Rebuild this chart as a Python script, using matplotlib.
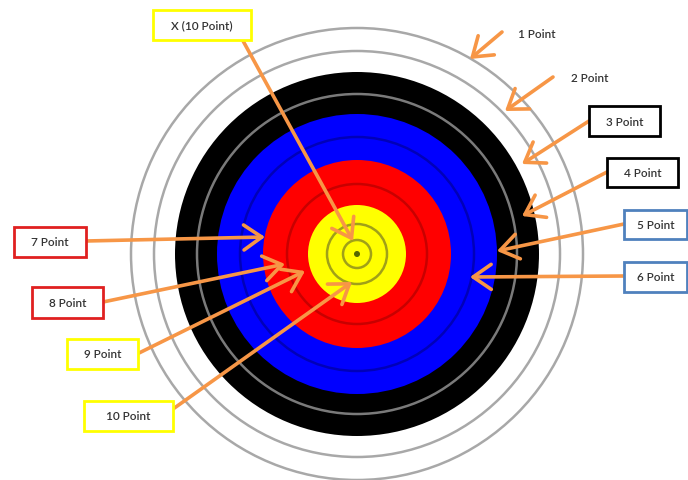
import matplotlib.pyplot as plt
from matplotlib.patches import Circle, Rectangle, FancyArrowPatch

# target geometry (pixel units, image coordinates)
center = (357, 255)
ring_radii = [226, 182, 140, 94, 49]
ring_colors = ['white', 'black', '#0000ff', '#ff0000', '#ffff00']
line_radii = [226, 203, 160, 117, 70, 30, 14]
line_colors = ['#a8a8a8', '#a8a8a8', '#7a7a7a', '#0000b8', '#c80000', '#a0a018', '#a0a018']

# labels
labels = ['X (10 Point)', '1 Point', '2 Point', '3 Point', '4 Point', '5 Point',
          '6 Point', '7 Point', '8 Point', '9 Point', '10 Point']
box_colors = ['#ffff00', None, None, 'black', 'black', '#4f81bd',
              '#4f81bd', '#e02020', '#e02020', '#ffff00', '#ffff00']

# layout: box (x, y, w, h) or text centre, arrow start and tip
boxes = [(153, 11, 98, 30), (537, 34), (590, 78), (589, 107, 71, 30),
         (607, 159, 71, 29), (624, 211, 63, 29), (624, 263, 63, 30),
         (14, 228, 72, 30), (32, 288, 71, 31), (67, 340, 71, 30), (84, 402, 89, 30)]
arrow_start = [(242, 40), (502, 33), (553, 78), (589, 122), (607, 173), (624, 225),
               (624, 277), (86, 242), (103, 303), (137, 355), (173, 410)]
arrow_tip = [(353, 242), (470, 60), (505, 112), (522, 165), (522, 217), (497, 252),
             (470, 278), (265, 238), (285, 265), (305, 272), (352, 283)]

fig = plt.figure(figsize=(6.88, 4.81), dpi=100)
ax = fig.add_axes([0, 0, 1, 1])
ax.set_xlim(0, 688)
ax.set_ylim(481, 0)
ax.set_aspect('equal')
ax.axis('off')

for r, c in zip(ring_radii, ring_colors):
    ax.add_patch(Circle(center, r, facecolor=c, edgecolor='none', zorder=1))
for r, c in zip(line_radii, line_colors):
    ax.add_patch(Circle(center, r, facecolor='none', edgecolor=c, lw=1.8, zorder=2))
ax.add_patch(Circle(center, 3, facecolor='#556600', edgecolor='none', zorder=2))

for start, tip in zip(arrow_start, arrow_tip):
    ax.add_patch(FancyArrowPatch(start, tip, arrowstyle='->,head_length=0.65,head_width=0.45',
                                 mutation_scale=20, color='#f79646', lw=2.6,
                                 shrinkA=0, shrinkB=0, zorder=3, capstyle='round'))

for lab, box, bc in zip(labels, boxes, box_colors):
    if len(box) == 4:
        x, y, w, h = box
        ax.add_patch(Rectangle((x, y), w, h, facecolor='white', edgecolor=bc, lw=2.0, zorder=4))
        tx, ty = x + w / 2, y + h / 2
    else:
        tx, ty = box
    ax.text(tx, ty, lab, ha='center', va='center', fontsize=8.5, family='Lato',
            fontweight='semibold', color='#333333', zorder=5)

fig.savefig('out.png', dpi=100)
